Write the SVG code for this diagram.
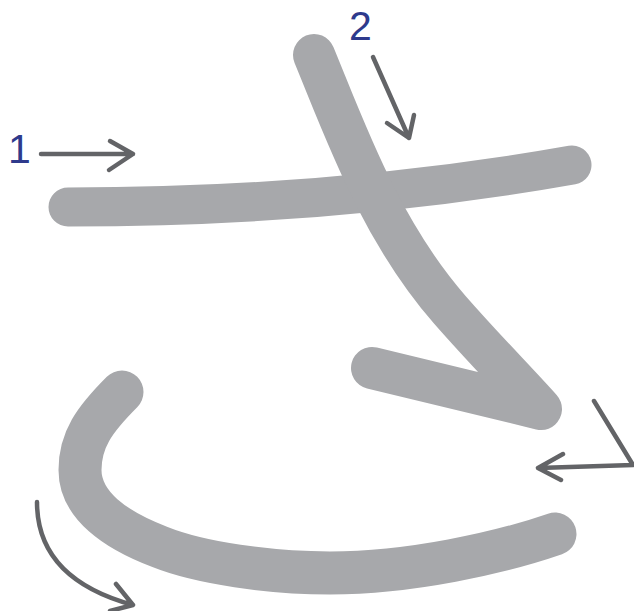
<svg xmlns="http://www.w3.org/2000/svg" width="634" height="611" viewBox="0 0 634 611">
<style>
.stroke{fill:none;stroke:#a7a8ab;stroke-linecap:round;stroke-linejoin:round}
.arrow{fill:none;stroke:#636467;stroke-width:4.5;stroke-linecap:round;stroke-linejoin:round}
.num{font-family:"Liberation Sans",Arial,sans-serif;font-size:41px;fill:#2e3a8c}
</style>
<rect width="634" height="611" fill="#ffffff"/>
<g id="stroke1">
<path class="stroke" stroke-width="39" d="M68 207 C250 207 420 192 572 165"/>
</g>
<g id="stroke2">
<path class="stroke" stroke-width="42" d="M314 55 C345 130 380 230 450 310 C485 350 515 380 541 409 L372 368"/>
</g>
<g id="stroke3">
<path class="stroke" stroke-width="43" d="M122 392 C94 420 80 440 80 470 C80 505 115 530 160 547 C200 563 270 573 330 573 C410 573 500 553 555 534"/>
</g>
<g id="labels">
<text class="num" x="8" y="163">1</text>
<text class="num" x="349" y="40">2</text>
</g>
<g id="connectors">
<path class="arrow" d="M41 154 L133 154 M110 141 L133 154 L109 170"/>
<path class="arrow" d="M373 57 L409 138 M387 123 L409 138 L414 115"/>
<path class="arrow" d="M594 401 L633 465 L538 468 M563 454 L538 468 L561 480"/>
<path class="arrow" d="M37 502 C37 545 60 585 133 605 M116 584 L133 605 L110 611"/>
</g>
</svg>
